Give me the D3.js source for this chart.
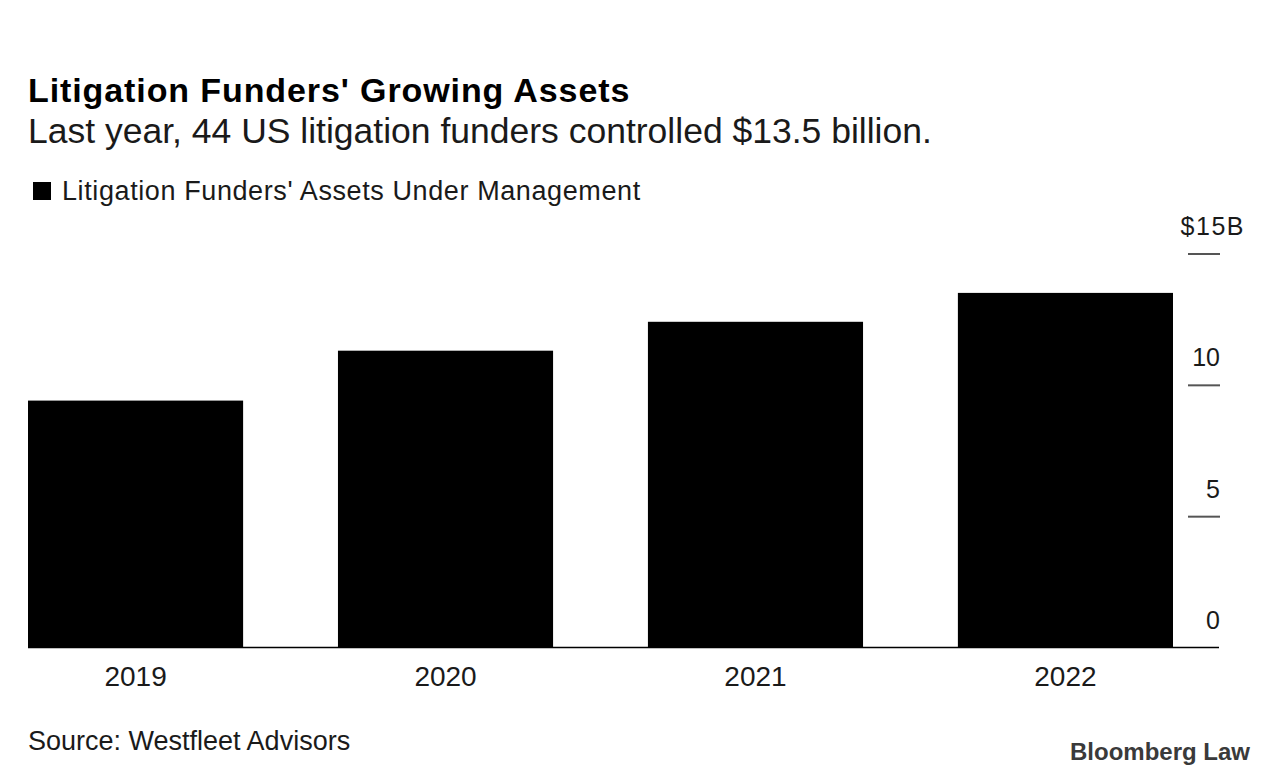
<!DOCTYPE html>
<html>
<head>
<meta charset="utf-8">
<script src="https://cdn.jsdelivr.net/npm/d3@7"></script>
<style>
  html, body { margin: 0; padding: 0; background: #fff; }
  svg { display: block; font-family: "Liberation Sans", Arial, sans-serif; }
</style>
</head>
<body>
<svg id="chart" width="1280" height="780"></svg>
<script>
const years = ["2019", "2020", "2021", "2022"];
const assets = [9.4, 11.3, 12.4, 13.5];
const yTicks = [0, 5, 10, 15];
const yTickLabels = ["0", "5", "10", "$15B"];

const titleText = "Litigation Funders' Growing Assets";
const subtitleText = "Last year, 44 US litigation funders controlled $13.5 billion.";
const legendText = "Litigation Funders' Assets Under Management";
const sourceText = "Source: Westfleet Advisors";
const brandText = "Bloomberg Law";

const svg = d3.select("#chart");

const x = d3.scaleBand().domain(years).range([28, 1173]).paddingInner(0.306).paddingOuter(0);
const y = d3.scaleLinear().domain([0, 15]).range([647.5, 253.5]);

// titles
svg.append("text").attr("x", 28).attr("y", 102)
  .attr("font-size", 34).attr("font-weight", "bold").attr("letter-spacing", 0.9)
  .attr("fill", "#000").text(titleText);
svg.append("text").attr("x", 28).attr("y", 143)
  .attr("font-size", 35.5).attr("fill", "#1a1a1a").text(subtitleText);

// legend
svg.append("rect").attr("x", 33).attr("y", 182).attr("width", 18).attr("height", 18).attr("fill", "#000");
svg.append("text").attr("x", 62).attr("y", 200)
  .attr("font-size", 27).attr("letter-spacing", 0.6).attr("fill", "#1a1a1a").text(legendText);

// bars
svg.append("g").selectAll("rect").data(years).join("rect")
  .attr("x", d => x(d))
  .attr("width", x.bandwidth())
  .attr("y", (d, i) => y(assets[i]))
  .attr("height", (d, i) => y(0) - y(assets[i]))
  .attr("fill", "#000");

// baseline
svg.append("line").attr("x1", 28).attr("x2", 1219).attr("y1", y(0)).attr("y2", y(0))
  .attr("stroke", "#000").attr("stroke-width", 1.5);

// y axis ticks (right side)
const yAxis = d3.axisRight(y).tickValues(yTicks).tickSize(0).tickFormat((d, i) => yTickLabels[i]);
const gy = svg.append("g").attr("transform", "translate(1220,0)").call(yAxis);
gy.select(".domain").remove();
gy.selectAll(".tick text")
  .attr("x", d => d === 15 ? 25 : 0)
  .attr("dy", -19)
  .attr("text-anchor", "end")
  .attr("font-size", 25)
  .attr("font-family", "Liberation Sans, Arial, sans-serif")
  .attr("fill", "#1a1a1a");
gy.selectAll(".tick").filter(d => d === 15).select("text").attr("letter-spacing", 1.5);
gy.selectAll(".tick").filter(d => d !== 0).append("line")
  .attr("x1", -32).attr("x2", 0).attr("y1", 0).attr("y2", 0)
  .attr("stroke", "#555").attr("stroke-width", 2);

// x axis labels
const xAxis = d3.axisBottom(x).tickSize(0);
const gx = svg.append("g").attr("transform", `translate(0,${y(0)})`).call(xAxis);
gx.select(".domain").remove();
gx.selectAll(".tick text")
  .attr("y", 0).attr("dy", 38)
  .attr("font-size", 28)
  .attr("font-family", "Liberation Sans, Arial, sans-serif")
  .attr("fill", "#1a1a1a");

// footer
svg.append("text").attr("x", 28).attr("y", 750)
  .attr("font-size", 27).attr("fill", "#1a1a1a").text(sourceText);
svg.append("text").attr("x", 1250).attr("y", 760).attr("text-anchor", "end")
  .attr("font-size", 24).attr("font-weight", "bold").attr("fill", "#3a3a3a").text(brandText);
</script>
</body>
</html>
